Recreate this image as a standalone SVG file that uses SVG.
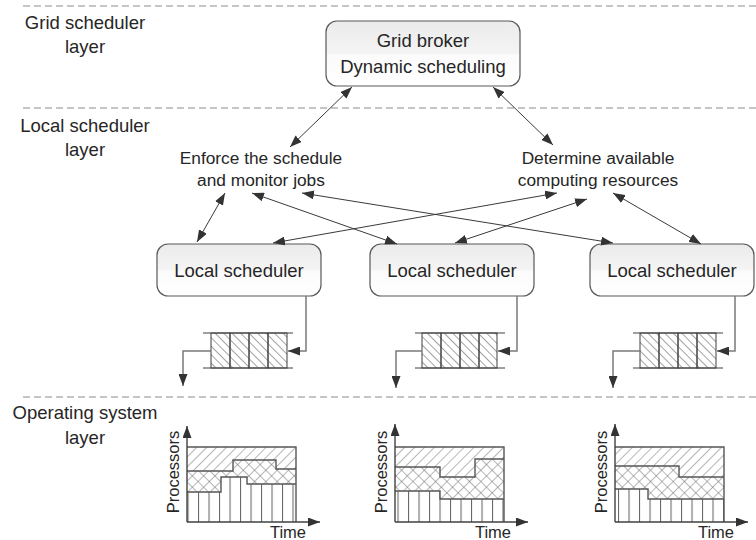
<svg xmlns="http://www.w3.org/2000/svg" width="756" height="540" viewBox="0 0 756 540">
<style>
.t{font-family:"Liberation Sans",Arial,sans-serif;fill:#262626;text-anchor:middle}
.lay{font-size:18.5px}
.mid{font-size:17.3px}
.box{stroke:#595959;stroke-width:1.2;fill:url(#g)}
.dash{stroke:#8c8c8c;stroke-width:1.2;stroke-dasharray:7 4;fill:none}
.con{stroke:#3a3a3a;stroke-width:1;fill:none}
.qc{stroke:#7a7a7a;stroke-width:1.5;fill:none}
.ql{stroke:#404040;stroke-width:1;fill:none}
.cell{stroke:#404040;stroke-width:1;fill:url(#bs)}
.edge{stroke:#555;stroke-width:1.4;fill:none}
.ax{stroke:#404040;stroke-width:1.4;fill:none}
</style>
<defs>
<linearGradient id="g" x1="0" y1="0" x2="0" y2="1">
<stop offset="0" stop-color="#ebebeb"/>
<stop offset="0.5" stop-color="#f4f4f4"/>
<stop offset="0.52" stop-color="#fbfbfb"/>
<stop offset="1" stop-color="#ffffff"/>
</linearGradient>
<marker id="ah" markerUnits="userSpaceOnUse" markerWidth="13" markerHeight="9" refX="12" refY="4.5" orient="auto-start-reverse" viewBox="0 0 13 9">
<path d="M0,0 L12,4.5 L0,9 z" fill="#333"/>
</marker>
<pattern id="bs" patternUnits="userSpaceOnUse" width="6" height="6" patternTransform="rotate(-45)">
<line x1="0" y1="0" x2="0" y2="6" stroke="#707070" stroke-width="1.3"/>
</pattern>
<pattern id="fs" patternUnits="userSpaceOnUse" width="7" height="7" patternTransform="rotate(45)">
<line x1="0" y1="0" x2="0" y2="7" stroke="#6e6e6e" stroke-width="1"/>
</pattern>
<pattern id="xh" patternUnits="userSpaceOnUse" width="8" height="8" patternTransform="rotate(45)">
<line x1="0" y1="0" x2="0" y2="8" stroke="#6e6e6e" stroke-width="1"/>
<line x1="0" y1="0" x2="8" y2="0" stroke="#6e6e6e" stroke-width="1"/>
</pattern>
<pattern id="vl" patternUnits="userSpaceOnUse" width="10.5" height="10" x="187.5">
<line x1="0.5" y1="0" x2="0.5" y2="10" stroke="#666" stroke-width="1.1"/>
</pattern>
</defs>
<rect width="756" height="540" fill="#ffffff"/>

<g id="layers">
<line class="dash" x1="23" y1="6" x2="756" y2="6"/>
<line class="dash" x1="23" y1="108" x2="756" y2="108"/>
<line class="dash" x1="23" y1="397" x2="756" y2="397"/>
<text class="t lay" x="85" y="29">Grid scheduler</text>
<text class="t lay" x="85" y="53">layer</text>
<text class="t lay" x="85" y="132">Local scheduler</text>
<text class="t lay" x="85" y="156">layer</text>
<text class="t lay" x="85" y="419">Operating system</text>
<text class="t lay" x="85" y="444">layer</text>
</g>

<g id="grid-broker">
<rect class="box" x="326" y="21" width="194" height="65" rx="11"/>
<text class="t lay" x="423" y="47">Grid broker</text>
<text class="t lay" x="423" y="73">Dynamic scheduling</text>
</g>

<g id="enforce">
<text class="t mid" x="261" y="164">Enforce the schedule</text>
<text class="t mid" x="261" y="186">and monitor jobs</text>
</g>

<g id="determine">
<text class="t mid" x="598" y="164">Determine available</text>
<text class="t mid" x="598" y="186">computing resources</text>
</g>

<g id="local1">
<rect class="box" x="157" y="244" width="164" height="52" rx="11"/>
<text class="t lay" x="239" y="277">Local scheduler</text>
</g>
<g id="local2">
<rect class="box" x="370" y="244" width="164" height="52" rx="11"/>
<text class="t lay" x="452" y="277">Local scheduler</text>
</g>
<g id="local3">
<rect class="box" x="590" y="244" width="164" height="52" rx="11"/>
<text class="t lay" x="672" y="277">Local scheduler</text>
</g>

<g id="queue1">
<line class="ql" x1="203" y1="333" x2="293" y2="333"/>
<line class="ql" x1="203" y1="368" x2="293" y2="368"/>
<rect class="cell" x="211" y="333" width="19" height="35"/>
<rect class="cell" x="230" y="333" width="19" height="35"/>
<rect class="cell" x="249" y="333" width="19" height="35"/>
<rect class="cell" x="268" y="333" width="19" height="35"/>
</g>
<g id="queue2">
<line class="ql" x1="415" y1="333" x2="505" y2="333"/>
<line class="ql" x1="415" y1="368" x2="505" y2="368"/>
<rect class="cell" x="422" y="333" width="19" height="35"/>
<rect class="cell" x="441" y="333" width="19" height="35"/>
<rect class="cell" x="460" y="333" width="19" height="35"/>
<rect class="cell" x="479" y="333" width="18" height="35"/>
</g>
<g id="queue3">
<line class="ql" x1="633" y1="333" x2="723" y2="333"/>
<line class="ql" x1="633" y1="368" x2="723" y2="368"/>
<rect class="cell" x="640" y="333" width="19" height="35"/>
<rect class="cell" x="659" y="333" width="19" height="35"/>
<rect class="cell" x="678" y="333" width="19" height="35"/>
<rect class="cell" x="697" y="333" width="19" height="35"/>
</g>

<g id="chart1">
<polygon fill="url(#fs)" points="187,447 296,447 296,469 276,469 276,460 233,460 233,471 187,471"/>
<polygon fill="url(#xh)" points="187,471 233,471 233,460 276,460 276,469 296,469 296,484 247,484 247,477 221,477 221,492 187,492"/>
<polygon fill="url(#vl)" points="187,492 221,492 221,477 247,477 247,484 296,484 296,522 187,522"/>
<path class="edge" d="M187,471 H233 V460 H276 V469 H296 M187,492 H221 V477 H247 V484 H296 M187,447 H296 V522"/>
<line class="ax" x1="187" y1="522" x2="187" y2="426" marker-end="url(#ah)"/>
<line class="ax" x1="187" y1="522" x2="320" y2="522" marker-end="url(#ah)"/>
<text class="t" font-size="16.5" transform="translate(179,472) rotate(-90)">Processors</text>
<text class="t" font-size="16.5" x="288" y="538">Time</text>
</g>

<g id="chart2">
<polygon fill="url(#fs)" points="395,447 504,447 504,459 475,459 475,477 440,477 440,467 395,467"/>
<polygon fill="url(#xh)" points="395,467 440,467 440,477 475,477 475,459 504,459 504,499 440,499 440,491 395,491"/>
<polygon fill="url(#vl)" points="395,491 440,491 440,499 504,499 504,522 395,522"/>
<path class="edge" d="M395,467 H440 V477 H475 V459 H504 M395,491 H440 V499 H504 M395,447 H504 V522"/>
<line class="ax" x1="395" y1="522" x2="395" y2="424" marker-end="url(#ah)"/>
<line class="ax" x1="395" y1="522" x2="528" y2="522" marker-end="url(#ah)"/>
<text class="t" font-size="16.5" transform="translate(387,472) rotate(-90)">Processors</text>
<text class="t" font-size="16.5" x="493" y="538">Time</text>
</g>

<g id="chart3">
<polygon fill="url(#fs)" points="615,447 724,447 724,477 679,477 679,466 615,466"/>
<polygon fill="url(#xh)" points="615,466 679,466 679,477 724,477 724,499 648,499 648,489 615,489"/>
<polygon fill="url(#vl)" points="615,489 648,489 648,499 724,499 724,522 615,522"/>
<path class="edge" d="M615,466 H679 V477 H724 M615,489 H648 V499 H724 M615,447 H724 V522"/>
<line class="ax" x1="615" y1="522" x2="615" y2="424" marker-end="url(#ah)"/>
<line class="ax" x1="615" y1="522" x2="748" y2="522" marker-end="url(#ah)"/>
<text class="t" font-size="16.5" transform="translate(607,472) rotate(-90)">Processors</text>
<text class="t" font-size="16.5" x="716" y="538">Time</text>
</g>

<g id="connectors">
<line class="con" x1="352" y1="87" x2="290" y2="147" marker-start="url(#ah)" marker-end="url(#ah)"/>
<line class="con" x1="493" y1="87" x2="553" y2="145" marker-start="url(#ah)" marker-end="url(#ah)"/>
<line class="con" x1="225" y1="193" x2="197" y2="242" marker-start="url(#ah)" marker-end="url(#ah)"/>
<line class="con" x1="252" y1="193" x2="397" y2="244" marker-start="url(#ah)" marker-end="url(#ah)"/>
<line class="con" x1="302" y1="193" x2="613" y2="243" marker-start="url(#ah)" marker-end="url(#ah)"/>
<line class="con" x1="557" y1="193" x2="273" y2="243" marker-start="url(#ah)" marker-end="url(#ah)"/>
<line class="con" x1="587" y1="199" x2="455" y2="243" marker-start="url(#ah)" marker-end="url(#ah)"/>
<line class="con" x1="613" y1="193" x2="701" y2="244" marker-start="url(#ah)" marker-end="url(#ah)"/>
<path class="qc" d="M306,296 V351 H288" marker-end="url(#ah)"/>
<path class="qc" d="M211,351 H183 V386" marker-end="url(#ah)"/>
<path class="qc" d="M517,296 V351 H498" marker-end="url(#ah)"/>
<path class="qc" d="M422,351 H396 V388" marker-end="url(#ah)"/>
<path class="qc" d="M735,296 V351 H717" marker-end="url(#ah)"/>
<path class="qc" d="M640,351 H613 V388" marker-end="url(#ah)"/>
</g>
</svg>
